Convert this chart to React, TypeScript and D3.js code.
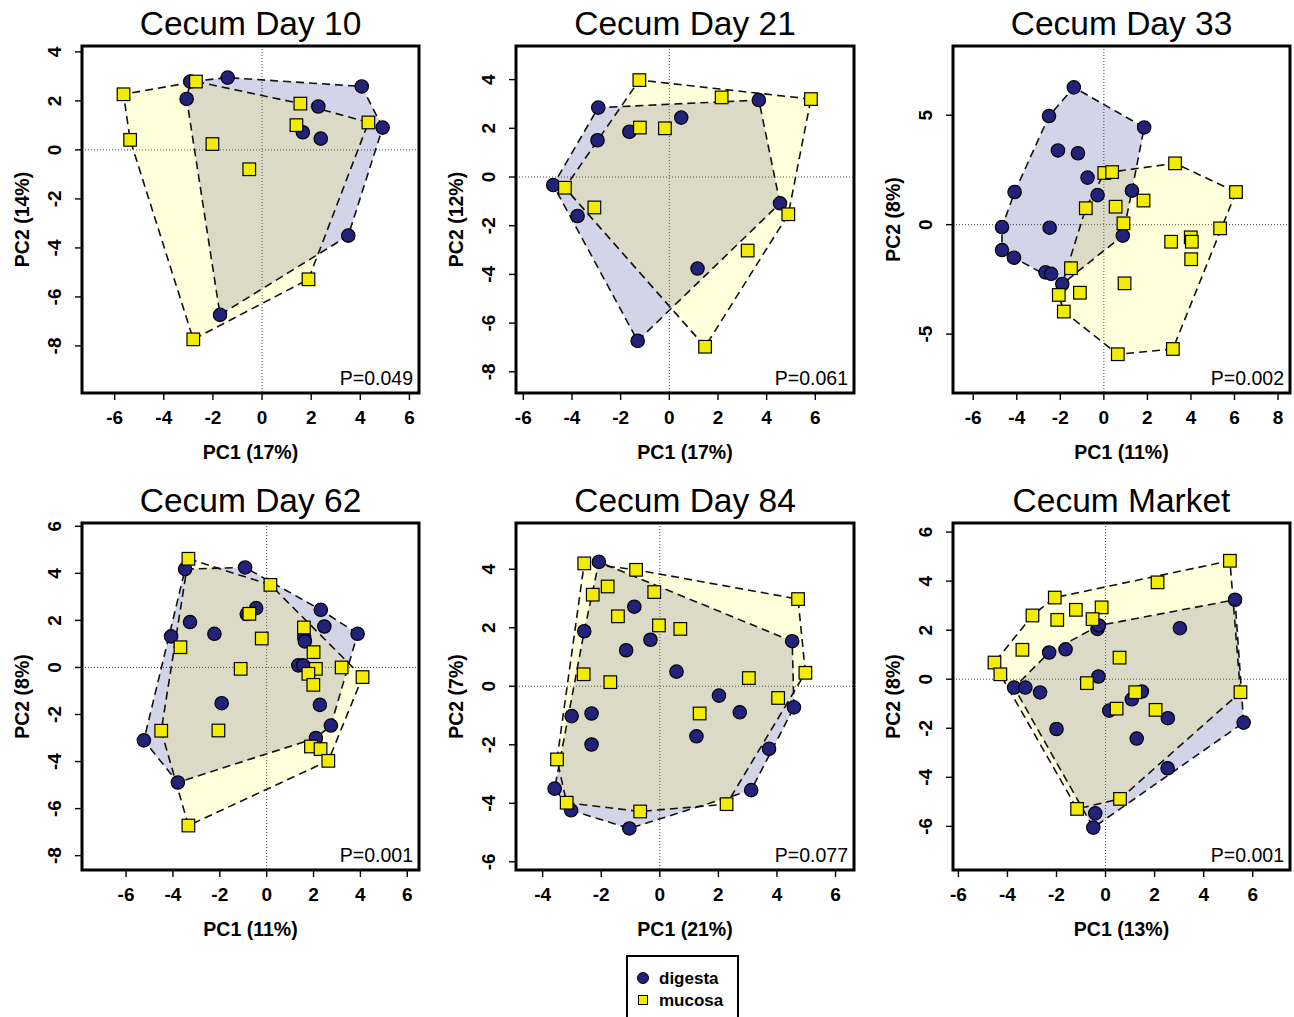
import React from 'react';
import * as d3 from 'd3';

type Pt = [number, number];

const titles = ['Cecum Day 10', 'Cecum Day 21', 'Cecum Day 33', 'Cecum Day 62', 'Cecum Day 84', 'Cecum Market'];
const xLabels = ['PC1 (17%)', 'PC1 (17%)', 'PC1 (11%)', 'PC1 (11%)', 'PC1 (21%)', 'PC1 (13%)'];
const yLabels = ['PC2 (14%)', 'PC2 (12%)', 'PC2 (8%)', 'PC2 (8%)', 'PC2 (7%)', 'PC2 (8%)'];
const pValues = ['P=0.049', 'P=0.061', 'P=0.002', 'P=0.001', 'P=0.077', 'P=0.001'];
const xTicks = [
  [-6, -4, -2, 0, 2, 4, 6],
  [-6, -4, -2, 0, 2, 4, 6],
  [-6, -4, -2, 0, 2, 4, 6, 8],
  [-6, -4, -2, 0, 2, 4, 6],
  [-4, -2, 0, 2, 4, 6],
  [-6, -4, -2, 0, 2, 4, 6],
];
const yTicks = [
  [-8, -6, -4, -2, 0, 2, 4],
  [-8, -6, -4, -2, 0, 2, 4],
  [-5, 0, 5],
  [-8, -6, -4, -2, 0, 2, 4, 6],
  [-6, -4, -2, 0, 2, 4],
  [-6, -4, -2, 0, 2, 4, 6],
];
const xDomains: Pt[] = [[-7.33, 6.39], [-6.30, 7.59], [-6.93, 8.55], [-7.88, 6.50], [-4.91, 6.63], [-6.22, 7.52]];
const yDomains: Pt[] = [[-9.92, 4.24], [-8.87, 5.38], [-7.69, 8.16], [-8.61, 6.14], [-6.28, 5.58], [-7.78, 6.37]];

const digestaD10: Pt[] = [[-1.40, 2.95], [-2.92, 2.79], [-3.07, 2.08], [4.06, 2.59], [2.29, 1.77], [4.91, 0.91], [1.66, 0.72], [2.39, 0.46], [3.51, -3.50], [-1.71, -6.73]];
const mucosaD10: Pt[] = [[-5.64, 2.27], [-2.69, 2.79], [-5.37, 0.41], [-2.02, 0.24], [-0.52, -0.79], [1.56, 1.89], [1.40, 1.01], [4.33, 1.12], [1.89, -5.28], [-2.80, -7.73]];

const digestaD21: Pt[] = [[-4.77, -0.33], [-2.92, 2.85], [-2.95, 1.51], [-1.64, 1.86], [0.49, 2.44], [3.68, 3.16], [-3.77, -1.60], [4.55, -1.08], [1.16, -3.76], [-1.30, -6.73]];
const mucosaD21: Pt[] = [[-1.23, 3.98], [2.15, 3.27], [5.82, 3.20], [-1.21, 2.03], [-0.18, 2.00], [-4.29, -0.44], [-3.08, -1.25], [4.89, -1.53], [3.22, -3.02], [1.47, -6.97]];

const digestaD33: Pt[] = [[-1.38, 6.27], [-2.52, 4.96], [1.85, 4.44], [-2.11, 3.39], [-1.19, 3.26], [-0.75, 2.15], [-0.29, 1.35], [1.29, 1.55], [-4.10, 1.49], [-4.68, -0.11], [-2.49, -0.14], [0.87, -0.50], [-4.68, -1.16], [-4.13, -1.51], [-2.68, -2.18], [-2.42, -2.25], [-1.91, -2.71]];
const mucosaD33: Pt[] = [[3.27, 2.80], [6.07, 1.49], [0.02, 2.36], [0.38, 2.40], [-0.83, 0.75], [0.54, 0.82], [1.82, 1.10], [0.90, 0.06], [5.34, -0.17], [3.09, -0.78], [3.99, -0.58], [4.04, -0.78], [4.01, -1.58], [-1.51, -1.99], [0.95, -2.68], [-2.07, -3.21], [-1.10, -3.11], [-1.84, -3.97], [0.64, -5.92], [3.17, -5.68]];

const digestaD62: Pt[] = [[-3.48, 4.18], [-0.92, 4.25], [-0.45, 2.52], [-0.85, 2.27], [2.31, 2.45], [2.46, 1.74], [3.88, 1.43], [-3.27, 1.93], [-4.08, 1.32], [-2.23, 1.43], [1.60, 1.28], [1.63, 1.11], [1.35, 0.09], [1.56, 0.09], [-1.92, -1.52], [2.27, -1.59], [2.74, -2.47], [2.10, -3.00], [-5.24, -3.10], [-3.79, -4.89]];
const mucosaD62: Pt[] = [[-3.34, 4.62], [0.16, 3.51], [-0.74, 2.28], [-0.21, 1.23], [-3.68, 0.86], [-1.11, -0.06], [1.59, 1.70], [2.00, 0.65], [2.10, -0.06], [3.20, 0.00], [4.09, -0.41], [1.78, -0.27], [1.99, -0.74], [-4.50, -2.69], [-2.06, -2.68], [1.89, -3.36], [2.30, -3.47], [2.63, -3.97], [-3.34, -6.72]];

const digestaD84: Pt[] = [[-2.08, 4.25], [-0.87, 2.72], [-2.58, 1.88], [-0.32, 1.59], [-1.15, 1.23], [0.57, 0.50], [4.52, 1.54], [2.02, -0.32], [2.73, -0.89], [4.58, -0.72], [-3.01, -1.02], [-2.33, -0.93], [-2.33, -1.99], [1.25, -1.71], [3.73, -2.14], [3.12, -3.55], [-3.59, -3.50], [-3.03, -4.24], [-1.04, -4.86]];
const mucosaD84: Pt[] = [[-2.58, 4.20], [-0.81, 3.98], [-1.78, 3.41], [-2.29, 3.13], [-0.19, 3.22], [4.72, 2.98], [-1.43, 2.39], [-0.03, 2.08], [0.70, 1.96], [-2.60, 0.41], [-1.69, 0.14], [4.97, 0.46], [3.04, 0.28], [4.04, -0.40], [1.36, -0.93], [-3.51, -2.50], [-3.18, -3.98], [-0.67, -4.28], [2.28, -4.03]];

const digestaMkt: Pt[] = [[5.28, 3.24], [3.03, 2.08], [-0.33, 2.05], [-0.27, 2.19], [-2.30, 1.09], [-1.63, 1.22], [-0.29, 0.11], [-3.73, -0.34], [-3.27, -0.34], [-2.67, -0.54], [1.48, -0.50], [1.07, -0.82], [0.15, -1.28], [2.54, -1.59], [-2.00, -2.03], [1.27, -2.42], [2.53, -3.63], [5.63, -1.77], [-0.42, -5.47], [-0.50, -6.05]];
const mucosaMkt: Pt[] = [[5.07, 4.83], [2.12, 3.95], [-2.07, 3.33], [-2.98, 2.60], [-1.21, 2.83], [-0.16, 2.93], [-1.97, 2.42], [-0.53, 2.45], [-3.39, 1.20], [0.57, 0.88], [-4.53, 0.68], [-4.29, 0.20], [-0.76, -0.16], [1.21, -0.53], [0.45, -1.20], [2.04, -1.25], [5.50, -0.53], [-1.16, -5.29], [0.59, -4.88]];

const digesta: Pt[][] = [digestaD10, digestaD21, digestaD33, digestaD62, digestaD84, digestaMkt];
const mucosa: Pt[][] = [mucosaD10, mucosaD21, mucosaD33, mucosaD62, mucosaD84, mucosaMkt];
const legendLabels = ['digesta', 'mucosa'];

const FONT = '"Liberation Sans", Arial, Helvetica, sans-serif';
const colX: Pt[] = [[82, 419], [516, 854], [953, 1290]];
const rowY: Pt[] = [[46, 393], [523, 870]];
const NAVY = '#22227a';
const YELLOW = '#f2ec00';
const DIG_FILL = 'rgba(40,40,140,0.2)';
const MUC_FILL = 'rgba(255,255,0,0.14)';

function hullPath(pts: [number, number][]) {
  const h = d3.polygonHull(pts);
  if (!h) return '';
  return 'M' + h.map((p) => p.join(',')).join('L') + 'Z';
}

function Panel({ i }: { i: number }) {
  const [x0, x1] = colX[i % 3];
  const [y0, y1] = rowY[Math.floor(i / 3)];
  const x = d3.scaleLinear().domain(xDomains[i]).range([x0, x1]);
  const y = d3.scaleLinear().domain(yDomains[i]).range([y1, y0]);
  const cx = (x0 + x1) / 2;
  const cy = (y0 + y1) / 2;
  const dPts = digesta[i].map((p) => [x(p[0]), y(p[1])] as [number, number]);
  const mPts = mucosa[i].map((p) => [x(p[0]), y(p[1])] as [number, number]);
  const xt = xTicks[i];
  const yt = yTicks[i];
  return (
    <g>
      <text x={cx} y={y0 - 11} textAnchor="middle" fontSize={33.5} fontFamily={FONT}>{titles[i]}</text>
      <line x1={x(0)} x2={x(0)} y1={y0} y2={y1} stroke="#444" strokeWidth={1} strokeDasharray="1,2" />
      <line x1={x0} x2={x1} y1={y(0)} y2={y(0)} stroke="#444" strokeWidth={1} strokeDasharray="1,2" />
      <path d={hullPath(dPts)} fill={DIG_FILL} stroke="none" />
      <path d={hullPath(mPts)} fill={MUC_FILL} stroke="none" />
      <path d={hullPath(dPts)} fill="none" stroke="#111" strokeWidth={1.6} strokeDasharray="8,5" />
      <path d={hullPath(mPts)} fill="none" stroke="#111" strokeWidth={1.6} strokeDasharray="8,5" />
      {dPts.map((p, k) => (
        <circle key={'d' + k} cx={p[0]} cy={p[1]} r={6.7} fill={NAVY} stroke="#000" strokeWidth={1.2} />
      ))}
      {mPts.map((p, k) => (
        <rect key={'m' + k} x={p[0] - 6.3} y={p[1] - 6.3} width={12.6} height={12.6} fill={YELLOW} stroke="#000" strokeWidth={1.2} />
      ))}
      <rect x={x0} y={y0} width={x1 - x0} height={y1 - y0} fill="none" stroke="#000" strokeWidth={3} />
      {xt.map((t) => (
        <g key={'xt' + t}>
          <line x1={x(t)} x2={x(t)} y1={y1} y2={y1 + 7} stroke="#000" strokeWidth={1.4} />
          <text x={x(t)} y={y1 + 31} textAnchor="middle" fontSize={19} fontWeight="bold" fontFamily={FONT}>{t}</text>
        </g>
      ))}
      <line x1={x(xt[0])} x2={x(xt[xt.length - 1])} y1={y1} y2={y1} stroke="#000" strokeWidth={1.4} />
      {yt.map((t) => (
        <g key={'yt' + t}>
          <line x1={x0 - 7} x2={x0} y1={y(t)} y2={y(t)} stroke="#000" strokeWidth={1.4} />
          <text transform={`translate(${x0 - 21},${y(t)}) rotate(-90)`} textAnchor="middle" fontSize={19} fontWeight="bold" fontFamily={FONT}>{t}</text>
        </g>
      ))}
      <text x={x1 - 6} y={y1 - 8} textAnchor="end" fontSize={19.5} fontFamily={FONT}>{pValues[i]}</text>
      <text x={cx} y={y1 + 66} textAnchor="middle" fontSize={19.5} fontWeight="bold" fontFamily={FONT}>{xLabels[i]}</text>
      <text transform={`translate(${x0 - 53},${cy}) rotate(-90)`} textAnchor="middle" fontSize={19.5} fontWeight="bold" fontFamily={FONT}>{yLabels[i]}</text>
    </g>
  );
}

export default function App() {
  return (
    <svg width={1294} height={1017} style={{ position: 'absolute', left: 0, top: 0, background: '#fff' }}>
      <rect x={0} y={0} width={1294} height={1017} fill="#fff" />
      {titles.map((_, i) => (
        <Panel key={i} i={i} />
      ))}
      <rect x={627} y={956} width={111} height={80} fill="#fff" stroke="#000" strokeWidth={2} />
      <circle cx={643} cy={978} r={5.5} fill={NAVY} stroke="#000" strokeWidth={1} />
      <rect x={638.5} y={995.5} width={9} height={9} fill={YELLOW} stroke="#000" strokeWidth={1} />
      <text x={659} y={984} fontSize={17} fontWeight="bold" fontFamily={FONT}>{legendLabels[0]}</text>
      <text x={659} y={1006} fontSize={17} fontWeight="bold" fontFamily={FONT}>{legendLabels[1]}</text>
    </svg>
  );
}
